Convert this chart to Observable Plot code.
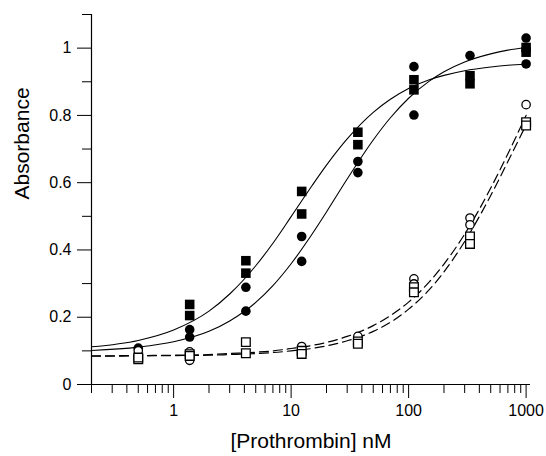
<!DOCTYPE html>
<html><head><meta charset="utf-8">
<script src="https://cdn.jsdelivr.net/npm/d3@7"></script>
<script src="https://cdn.jsdelivr.net/npm/@observablehq/plot@0.6"></script>
<style>body{margin:0;background:#fff;}</style>
</head><body><div id="chart"></div>
<script>
// Concentrations (nM) of the measured points
const conc = [0.5, 1.37, 4.12, 12.3, 37, 111, 333, 1000];
// Replicate absorbances per series (null = no visible point)
const filledSquares1 = [null, 0.238, 0.368, 0.574, 0.750, 0.906, 0.918, 1.002];
const filledSquares2 = [null, 0.205, 0.331, 0.507, 0.713, 0.876, 0.894, 0.988];
const filledCircles1 = [0.108, 0.163, 0.289, 0.440, 0.663, 0.945, 0.978, 1.030];
const filledCircles2 = [null, 0.141, 0.218, 0.366, 0.630, 0.801, null, 0.953];
const openCircles1 = [0.100, 0.097, null, 0.113, 0.143, 0.314, 0.495, 0.832];
const openCircles2 = [null, 0.072, null, null, null, 0.299, 0.475, null];
const openSquares1 = [0.075, 0.090, 0.126, 0.100, 0.128, 0.289, 0.440, 0.780];
const openSquares2 = [0.080, 0.085, 0.093, 0.091, 0.121, 0.274, 0.418, 0.770];

// Fitted curves
const curveX = [0.2, 0.5, 1, 2, 3, 5, 7, 10, 15, 20, 30, 50, 70, 100, 150, 200, 300, 500, 700, 1000];
const fitFilledSquares = [0.112, 0.131, 0.162, 0.218, 0.269, 0.353, 0.420, 0.499, 0.590, 0.652, 0.730, 0.809, 0.848, 0.880, 0.906, 0.919, 0.933, 0.944, 0.949, 0.952];
const fitFilledCircles = [0.101, 0.111, 0.127, 0.158, 0.189, 0.244, 0.294, 0.359, 0.446, 0.513, 0.611, 0.727, 0.793, 0.851, 0.902, 0.930, 0.959, 0.983, 0.994, 1.002];
const fitOpenCircles = [0.085, 0.086, 0.087, 0.089, 0.092, 0.096, 0.100, 0.107, 0.116, 0.125, 0.143, 0.175, 0.205, 0.245, 0.305, 0.358, 0.447, 0.584, 0.686, 0.800];
const fitOpenSquares = [0.084, 0.085, 0.086, 0.087, 0.089, 0.092, 0.095, 0.100, 0.107, 0.115, 0.130, 0.158, 0.185, 0.224, 0.282, 0.335, 0.425, 0.562, 0.663, 0.772];

// Axis ticks
const xMajor = [1, 10, 100, 1000];
const xMinor = [0.2,0.3,0.4,0.5,0.6,0.7,0.8,0.9, 2,3,4,5,6,7,8,9, 20,30,40,50,60,70,80,90, 200,300,400,500,600,700,800,900];
const yMajor = [0, 0.2, 0.4, 0.6, 0.8, 1];
const yMinor = [0.1, 0.3, 0.5, 0.7, 0.9, 1.1];
const xTitle = "[Prothrombin] nM";
const yTitle = "Absorbance";

const pts = (a, b) => {
  const out = [];
  conc.forEach((c, i) => {
    if (a[i] != null) out.push({x: c, y: a[i]});
    if (b[i] != null) out.push({x: c, y: b[i]});
  });
  return out;
};
const crv = ys => curveX.map((x, i) => ({x, y: ys[i]}));

const chart = Plot.plot({
  width: 546, height: 456,
  marginLeft: 91, marginRight: 16, marginTop: 14, marginBottom: 72,
  style: {fontFamily: "'Liberation Sans', Arial, sans-serif", background: "white", color: "black", fontSize: "16px"},
  x: {type: "log", domain: [0.2, 1090], label: null},
  y: {domain: [0, 1.1], label: null},
  marks: [
    Plot.axisY({ticks: yMajor, tickSize: 14, tickPadding: 6, fontSize: 16, tickFormat: d => String(+d.toFixed(1)), label: null}),
    Plot.axisY({ticks: yMinor, tickSize: 9, tickFormat: () => "", label: null}),
    Plot.axisX({ticks: xMajor, tickSize: 14, tickPadding: 6, fontSize: 16, tickFormat: d => String(d), label: null}),
    Plot.axisX({ticks: xMinor, tickSize: 9, tickFormat: () => "", label: null}),
    Plot.ruleX([0.2], {stroke: "black", strokeWidth: 1.2}),
    Plot.ruleY([0], {stroke: "black", strokeWidth: 1.2}),
    Plot.text([yTitle], {frameAnchor: "left", dx: -69, rotate: -90, fontSize: 21, lineAnchor: "middle"}),
    Plot.text([xTitle], {frameAnchor: "bottom", dy: 57, fontSize: 21, lineAnchor: "middle"}),
    Plot.line(crv(fitFilledSquares), {x: "x", y: "y", curve: "monotone-x", stroke: "black", strokeWidth: 1.1}),
    Plot.line(crv(fitFilledCircles), {x: "x", y: "y", curve: "monotone-x", stroke: "black", strokeWidth: 1.1}),
    Plot.line(crv(fitOpenCircles), {x: "x", y: "y", curve: "monotone-x", stroke: "black", strokeWidth: 1.2, strokeDasharray: "9,5"}),
    Plot.line(crv(fitOpenSquares), {x: "x", y: "y", curve: "monotone-x", stroke: "black", strokeWidth: 1.2, strokeDasharray: "9,5"}),
    Plot.dot(pts(filledCircles1, filledCircles2), {x: "x", y: "y", r: 4.8, fill: "black", stroke: "none"}),
    Plot.dot(pts(filledSquares1, filledSquares2), {x: "x", y: "y", symbol: "square", r: 5.4, fill: "black", stroke: "none"}),
    Plot.dot(pts(openCircles1, openCircles2), {x: "x", y: "y", r: 4.2, fill: "white", stroke: "black", strokeWidth: 1.3}),
    Plot.dot(pts(openSquares1, openSquares2), {x: "x", y: "y", symbol: "square", r: 4.9, fill: "white", stroke: "black", strokeWidth: 1.3})
  ]
});
document.getElementById("chart").appendChild(chart);
</script>
</body></html>
